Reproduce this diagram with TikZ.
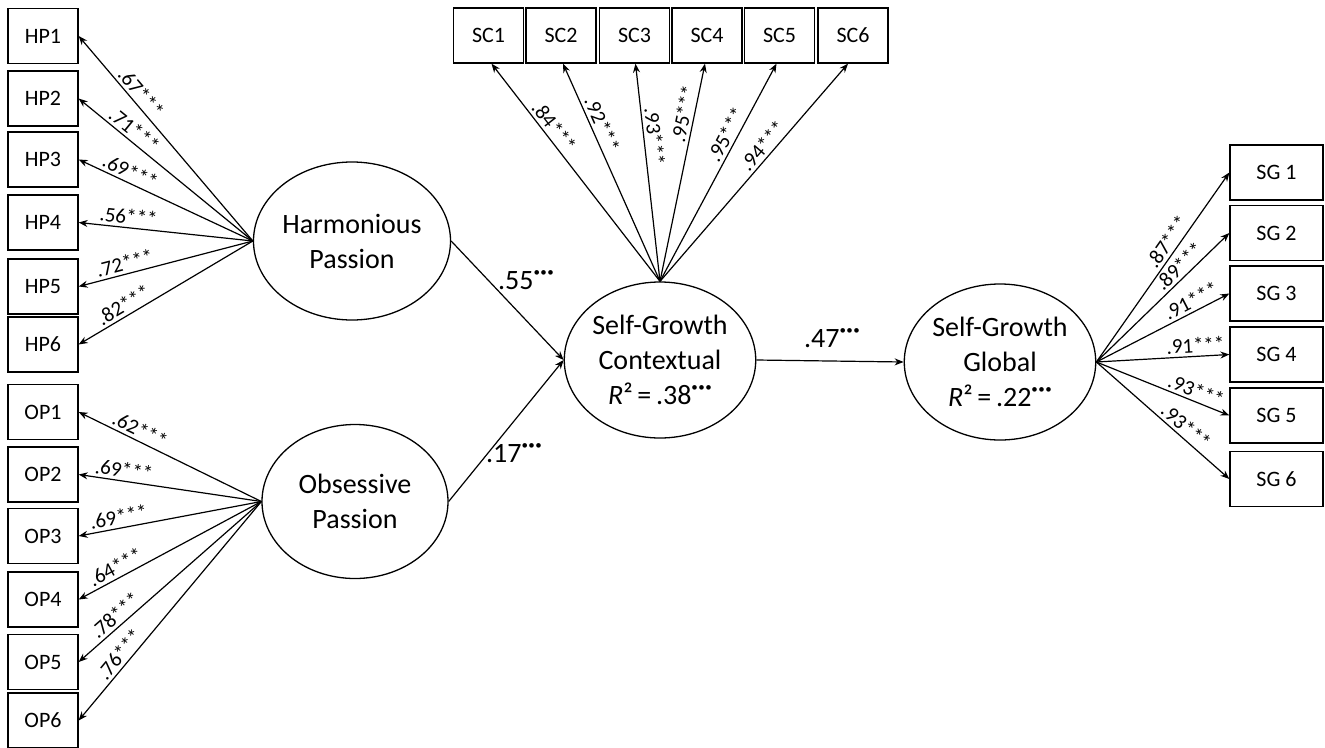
\documentclass[tikz,border=0pt]{standalone}
\usepackage{fontspec}
\setmainfont{Carlito}
\usetikzlibrary{arrows.meta,shapes.geometric}
\newcommand{\sigdots}{\raisebox{1.0ex}{\fontsize{13}{13}\selectfont •\kern0.5pt•\kern0.5pt•}}
\begin{document}
\begin{tikzpicture}[x=1pt,y=-1pt,
  ind/.style={draw,line width=1.3pt,rectangle,minimum width=70pt,minimum height=55pt,inner sep=0pt,font=\fontsize{22}{24}\selectfont},
  sgind/.style={ind,minimum width=93pt},
  lat/.style={draw,line width=1.3pt,ellipse,inner sep=0pt,align=center,font=\fontsize{28}{35}\selectfont},
  arr/.style={line width=1.2pt,-{Stealth[length=9pt,width=7pt]}},
  ld/.style={sloped,above,inner sep=3pt,font=\fontsize{21}{21}\selectfont},
  pl/.style={inner sep=0pt,font=\fontsize{28}{28}\selectfont}]
\useasboundingbox (0,0) rectangle (1325,747);
% HP indicators
\node[ind] (hp1) at (43,36) {HP1};
\node[ind] (hp2) at (43,98.5) {HP2};
\node[ind] (hp3) at (43,159.5) {HP3};
\node[ind] (hp4) at (43,222.5) {HP4};
\node[ind] (hp5) at (43,286.5) {HP5};
\node[ind] (hp6) at (43,344.5) {HP6};
% OP indicators
\node[ind] (op1) at (43,412) {OP1};
\node[ind] (op2) at (43,474.5) {OP2};
\node[ind] (op3) at (43,536) {OP3};
\node[ind] (op4) at (43,599.5) {OP4};
\node[ind] (op5) at (43,662) {OP5};
\node[ind] (op6) at (43,720.5) {OP6};
% SC indicators
\node[ind] (sc1) at (488.5,35.5) {SC1};
\node[ind] (sc2) at (561,35.5) {SC2};
\node[ind] (sc3) at (634.5,35.5) {SC3};
\node[ind] (sc4) at (707,35.5) {SC4};
\node[ind] (sc5) at (779.5,35.5) {SC5};
\node[ind] (sc6) at (853,35.5) {SC6};
% SG indicators
\node[sgind] (sg1) at (1276.5,172.5) {SG 1};
\node[sgind] (sg2) at (1276.5,233) {SG 2};
\node[sgind] (sg3) at (1276.5,293.5) {SG 3};
\node[sgind] (sg4) at (1276.5,354.5) {SG 4};
\node[sgind] (sg5) at (1276.5,415.5) {SG 5};
\node[sgind] (sg6) at (1276.5,479) {SG 6};
% latents
\node[lat,minimum width=194pt,minimum height=158pt] (hp) at (352,241) {Harmonious\\Passion};
\node[lat,minimum width=186pt,minimum height=154pt] (op) at (355,501.5) {Obsessive\\Passion};
\node[lat,minimum width=184pt,minimum height=156pt] (sgc) at (660,360) {Self-Growth\\Contextual\\\textit{R}²\,=\,.38\sigdots};
\node[lat,minimum width=184pt,minimum height=156pt] (sgg) at (1000,362) {Self-Growth\\Global\\\textit{R}²\,=\,.22\sigdots};
% HP loadings
\draw[arr] (hp.west) -- node[ld,pos=0.69] {.67***} (hp1.east);
\draw[arr] (hp.west) -- node[ld,pos=0.72] {.71***} (hp2.east);
\draw[arr] (hp.west) -- node[ld,pos=0.73] {.69***} (hp3.east);
\draw[arr] (hp.west) -- node[ld,pos=0.72] {.56***} (hp4.east);
\draw[arr] (hp.west) -- node[ld,pos=0.72] {.72***} (hp5.east);
\draw[arr] (hp.west) -- node[ld,pos=0.71] {.82***} (hp6.east);
% OP loadings
\draw[arr] (op.west) -- node[ld,pos=0.69] {.62***} (op1.east);
\draw[arr] (op.west) -- node[ld,pos=0.76] {.69***} (op2.east);
\draw[arr] (op.west) -- node[ld,pos=0.77] {.69***} (op3.east);
\draw[arr] (op.west) -- node[ld,pos=0.77] {.64***} (op4.east);
\draw[arr] (op.west) -- node[ld,pos=0.76] {.78***} (op5.east);
\draw[arr] (op.west) -- node[ld,pos=0.73] {.76***} (op6.east);
% SC loadings
\draw[arr] (sgc.north) -- node[ld,pos=0.68] {.84***} ([xshift=3pt]sc1.south);
\draw[arr] (sgc.north) -- node[ld,pos=0.70] {.92***} ([xshift=2pt]sc2.south);
\draw[arr] (sgc.north) -- node[ld,pos=0.66] {.93***} ([xshift=1pt]sc3.south);
\draw[arr] (sgc.north) -- node[ld,pos=0.76] {.95***} ([xshift=-2pt]sc4.south);
\draw[arr] (sgc.north) -- node[ld,pos=0.65] {.95***} ([xshift=-3pt]sc5.south);
\draw[arr] (sgc.north) -- node[ld,pos=0.59] {.94***} ([xshift=-5pt]sc6.south);
% SG loadings
\draw[arr] (sgg.east) -- node[ld,pos=0.60] {.87***} (sg1.west);
\draw[arr] (sgg.east) -- node[ld,pos=0.68] {.89***} (sg2.west);
\draw[arr] (sgg.east) -- node[ld,pos=0.75] {.91***} (sg3.west);
\draw[arr] (sgg.east) -- node[ld,pos=0.75] {.91***} (sg4.west);
\draw[arr] (sgg.east) -- node[ld,pos=0.72] {.93***} (sg5.west);
\draw[arr] (sgg.east) -- node[ld,pos=0.62] {.93***} (sg6.west);
% structural paths
\draw[arr] (hp.east) -- (sgc.west);
\draw[arr] (op.east) -- (sgc.west);
\draw[arr] (sgc.east) -- (sgg.west);
\node[pl] (b1) at (526,280) {.55\sigdots};
\node[pl] (b2) at (514,453) {.17\sigdots};
\node[pl] (b3) at (832,338) {.47\sigdots};
\end{tikzpicture}
\end{document}
